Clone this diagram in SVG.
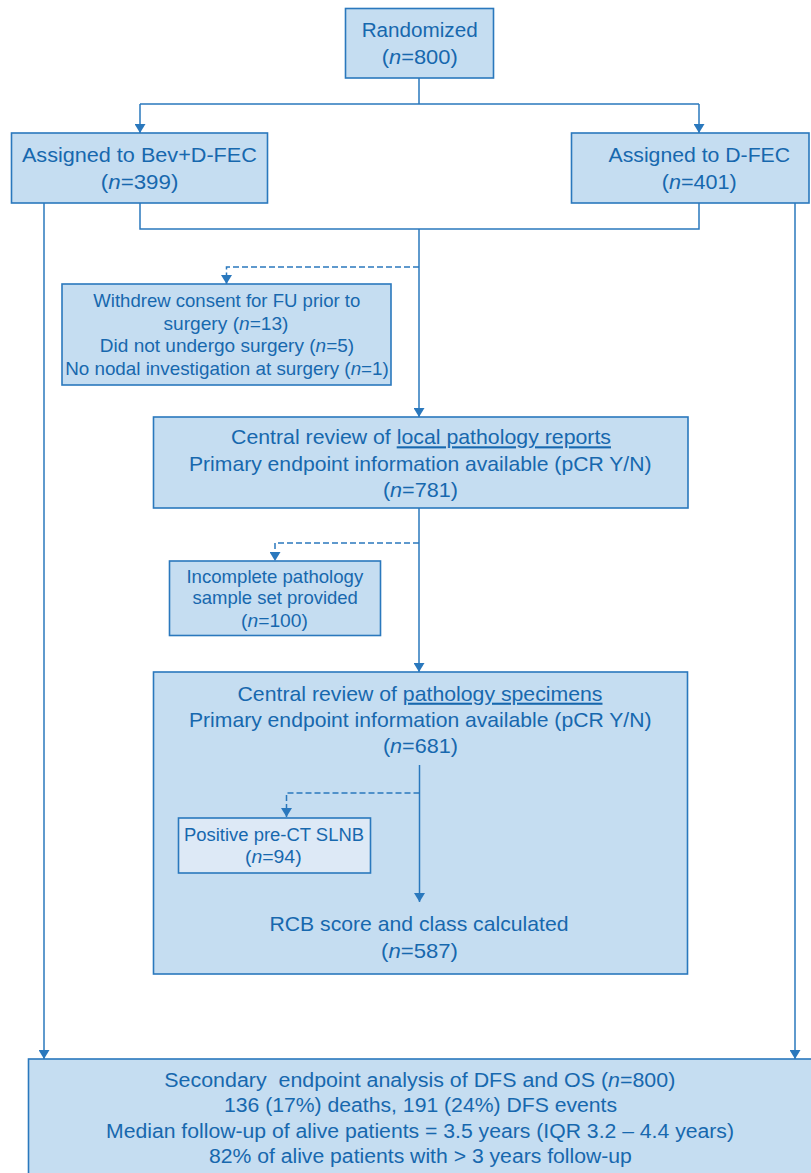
<svg xmlns="http://www.w3.org/2000/svg" width="811" height="1173" viewBox="0 0 811 1173">
<style>
.box{fill:#c5ddf1;stroke:#2a78bd;stroke-width:1.6}
.box2{fill:#dde9f6;stroke:#2a78bd;stroke-width:1.6}
text{font-family:"Liberation Sans",Arial,sans-serif;fill:#1768ae;text-anchor:middle}
.f20{font-size:20px}.f18{font-size:18.5px}.f21{font-size:21px}.f19{font-size:19.5px}
.ln{fill:none;stroke:#2a78bd;stroke-width:1.5}
.dl{fill:none;stroke:#2a78bd;stroke-width:1.5;stroke-dasharray:6 3}
.i{font-style:italic}
.u{text-decoration:underline}
</style>
<defs>
<marker id="ah" viewBox="0 0 10 10" refX="10" refY="5" markerWidth="9" markerHeight="11" markerUnits="userSpaceOnUse" orient="auto" preserveAspectRatio="none">
<path d="M0,0 L10,5 L0,10 Z" fill="#2a78bd"/>
</marker>
</defs>
<rect x="-10" y="-10" width="831" height="1193" fill="#ffffff"/>
<g id="connectors">
<path class="ln" d="M419,78 V104 M140,104 H699"/>
<path class="ln" d="M140,104 V133" marker-end="url(#ah)"/>
<path class="ln" d="M699,104 V133" marker-end="url(#ah)"/>
<path class="ln" d="M140,203 V229 H699 V203"/>
<path class="ln" d="M44,203 V1059" marker-end="url(#ah)"/>
<path class="ln" d="M795,203 V1059" marker-end="url(#ah)"/>
<path class="ln" d="M419,229 V417" marker-end="url(#ah)"/>
<path class="dl" d="M419,267 H226.5 V284" marker-end="url(#ah)"/>
<path class="ln" d="M419,508 V672" marker-end="url(#ah)"/>
<path class="dl" d="M419,543 H275 V561" marker-end="url(#ah)"/>
</g>
<g id="randomized">
<rect class="box" x="345.5" y="8.5" width="148" height="69.5"/>
<text class="f20" x="419.7" y="36.7" textLength="116" lengthAdjust="spacingAndGlyphs">Randomized</text>
<text class="f20" x="419.7" y="64" textLength="76" lengthAdjust="spacingAndGlyphs">(<tspan class="i">n</tspan>=800)</text>
</g>
<g id="bev">
<rect class="box" x="11.5" y="133" width="256" height="70"/>
<text class="f20" x="139.4" y="162.3" textLength="235" lengthAdjust="spacingAndGlyphs">Assigned to Bev+D-FEC</text>
<text class="f20" x="139.6" y="188.5" textLength="77.6" lengthAdjust="spacingAndGlyphs">(<tspan class="i">n</tspan>=399)</text>
</g>
<g id="dfec">
<rect class="box" x="571.5" y="133" width="237.5" height="70"/>
<text class="f20" x="699.3" y="162.3" textLength="181.5" lengthAdjust="spacingAndGlyphs">Assigned to D-FEC</text>
<text class="f20" x="699.3" y="188.5" textLength="75" lengthAdjust="spacingAndGlyphs">(<tspan class="i">n</tspan>=401)</text>
</g>
<g id="withdrew">
<rect class="box" x="62" y="284" width="329" height="101"/>
<text class="f18" x="226.8" y="307.3" textLength="267" lengthAdjust="spacingAndGlyphs">Withdrew consent for FU prior to</text>
<text class="f18" x="226" y="329.5" textLength="125" lengthAdjust="spacingAndGlyphs">surgery (<tspan class="i">n</tspan>=13)</text>
<text class="f18" x="227" y="352" textLength="254.4" lengthAdjust="spacingAndGlyphs">Did not undergo surgery (<tspan class="i">n</tspan>=5)</text>
<text class="f18" x="227" y="374.5" textLength="323.7" lengthAdjust="spacingAndGlyphs">No nodal investigation at surgery (<tspan class="i">n</tspan>=1)</text>
</g>
<g id="central-local">
<rect class="box" x="153.5" y="417" width="534.5" height="91"/>
<text class="f21" x="421" y="444.3" textLength="380" lengthAdjust="spacingAndGlyphs">Central review of <tspan class="u">local pathology reports</tspan></text>
<text class="f21" x="420.2" y="470.7" textLength="462.5" lengthAdjust="spacingAndGlyphs">Primary endpoint information available (pCR Y/N)</text>
<text class="f21" x="420.4" y="497.3" textLength="75" lengthAdjust="spacingAndGlyphs">(<tspan class="i">n</tspan>=781)</text>
</g>
<g id="incomplete">
<rect class="box" x="169.5" y="561" width="211" height="74.5"/>
<text class="f18" x="274.8" y="582.7" textLength="176.8" lengthAdjust="spacingAndGlyphs">Incomplete pathology</text>
<text class="f18" x="275.2" y="604.3" textLength="165.4" lengthAdjust="spacingAndGlyphs">sample set provided</text>
<text class="f18" x="274.5" y="627.3" textLength="66.9" lengthAdjust="spacingAndGlyphs">(<tspan class="i">n</tspan>=100)</text>
</g>
<g id="central-specimens">
<rect class="box" x="153.5" y="672" width="534" height="302"/>
<text class="f21" x="420" y="700.7" textLength="365" lengthAdjust="spacingAndGlyphs">Central review of <tspan class="u">pathology specimens</tspan></text>
<text class="f21" x="420.2" y="726.7" textLength="462.5" lengthAdjust="spacingAndGlyphs">Primary endpoint information available (pCR Y/N)</text>
<text class="f21" x="420.4" y="752.7" textLength="75" lengthAdjust="spacingAndGlyphs">(<tspan class="i">n</tspan>=681)</text>
<path class="ln" d="M419.5,765 V902" marker-end="url(#ah)"/>
<path class="dl" d="M419.5,793 H286.5 V817" marker-end="url(#ah)"/>
<text class="f21" x="419" y="930.7" textLength="299" lengthAdjust="spacingAndGlyphs">RCB score and class calculated</text>
<text class="f21" x="419.5" y="957.7" textLength="76.8" lengthAdjust="spacingAndGlyphs">(<tspan class="i">n</tspan>=587)</text>
</g>
<g id="positive">
<rect class="box2" x="178.5" y="818" width="192" height="55"/>
<text style="font-size:18px" x="274" y="841" textLength="180" lengthAdjust="spacingAndGlyphs">Positive pre-CT SLNB</text>
<text style="font-size:18px" x="273.3" y="863.3" textLength="56.7" lengthAdjust="spacingAndGlyphs">(<tspan class="i">n</tspan>=94)</text>
</g>
<g id="secondary">
<rect class="box" x="28.5" y="1059" width="800" height="130"/>
<text class="f19" x="419.8" y="1087.3" textLength="511" lengthAdjust="spacingAndGlyphs" xml:space="preserve">Secondary  endpoint analysis of DFS and OS (<tspan class="i">n</tspan>=800)</text>
<text class="f19" x="420.5" y="1112.3" textLength="393" lengthAdjust="spacingAndGlyphs">136 (17%) deaths, 191 (24%) DFS events</text>
<text class="f19" x="420" y="1137.5" textLength="628" lengthAdjust="spacingAndGlyphs">Median follow-up of alive patients = 3.5 years (IQR 3.2 – 4.4 years)</text>
<text class="f19" x="420.4" y="1162.7" textLength="423" lengthAdjust="spacingAndGlyphs">82% of alive patients with &gt; 3 years follow-up</text>
</g>
</svg>
